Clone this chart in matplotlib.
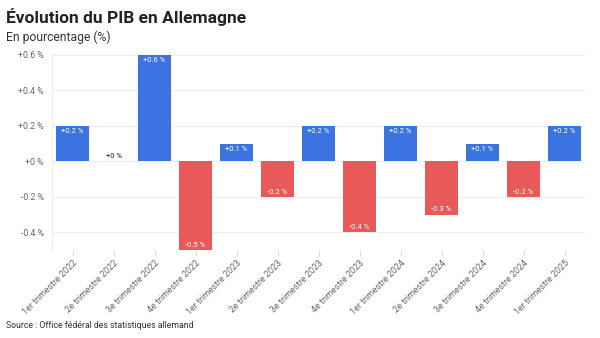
import matplotlib.pyplot as plt
import numpy as np

plt.rcParams['font.family'] = ['Roboto', 'DejaVu Sans']

trimestres = ["1er trimestre 2022", "2e trimestre 2022", "3e trimestre 2022", "4e trimestre 2022",
              "1er trimestre 2023", "2e trimestre 2023", "3e trimestre 2023", "4e trimestre 2023",
              "1er trimestre 2024", "2e trimestre 2024", "3e trimestre 2024", "4e trimestre 2024",
              "1er trimestre 2025"]
pib = [0.2, 0.0, 0.6, -0.5, 0.1, -0.2, 0.2, -0.4, 0.2, -0.3, 0.1, -0.2, 0.2]
y_ticks = [-0.4, -0.2, 0.0, 0.2, 0.4, 0.6]

bleu = '#3b73e3'
rouge = '#e85a5a'

fig = plt.figure(figsize=(6, 3.38), dpi=100)
ax = fig.add_axes([52/600, 1 - 250/338, 533/600, (250 - 53)/338])

x = np.arange(len(pib))
couleurs = [bleu if v > 0 else rouge for v in pib]
ax.bar(x, pib, width=0.8, color=couleurs, zorder=2)

def fmt(v):
    if v == 0:
        return "+0 %"
    return f"{v:+.1f} %"

# etiquettes dans les barres
for xi, v in zip(x, pib):
    if v > 0:
        ax.text(xi, v - 0.012, fmt(v), ha='center', va='top', color='white', fontsize=5.5, zorder=3)
    elif v < 0:
        ax.text(xi, v + 0.012, fmt(v), ha='center', va='bottom', color='white', fontsize=5.5, zorder=3)
    else:
        ax.text(xi, 0.01, fmt(v), ha='center', va='bottom', color='#222222', fontsize=5.5, zorder=3)

ax.set_xlim(-0.5, len(pib) - 0.5)
ax.set_ylim(-0.5, 0.61)
ax.set_yticks(y_ticks)
ax.set_yticklabels(["+0 %" if t == 0 else f"{t:+.1f} %" for t in y_ticks])
ax.set_xticks(x)
ax.set_xticklabels(trimestres, rotation=45, ha='right', rotation_mode='anchor')
ax.tick_params(axis='x', colors='#dddddd', length=4, labelcolor='#666666', labelsize=6.4, pad=2)
ax.tick_params(axis='y', length=0, labelcolor='#666666', labelsize=6.3, pad=6)
ax.grid(axis='y', color='#eeeeee', linewidth=0.8, zorder=0)
for s in ['top', 'right', 'bottom']:
    ax.spines[s].set_visible(False)
ax.spines['left'].set_color('#eeeeee')

fig.text(6/600, 1 - 17/338, "Évolution du PIB en Allemagne", fontsize=12.5, fontweight='bold', color='#222222', va='center')
fig.text(6/600, 1 - 37/338, "En pourcentage (%)", fontsize=8.7, color='#333333', va='center')
fig.text(6/600, 1 - 326/338, "Source : Office fédéral des statistiques allemand", fontsize=6.3, color='#333333', va='center')

fig.savefig('out.png', dpi=100)
